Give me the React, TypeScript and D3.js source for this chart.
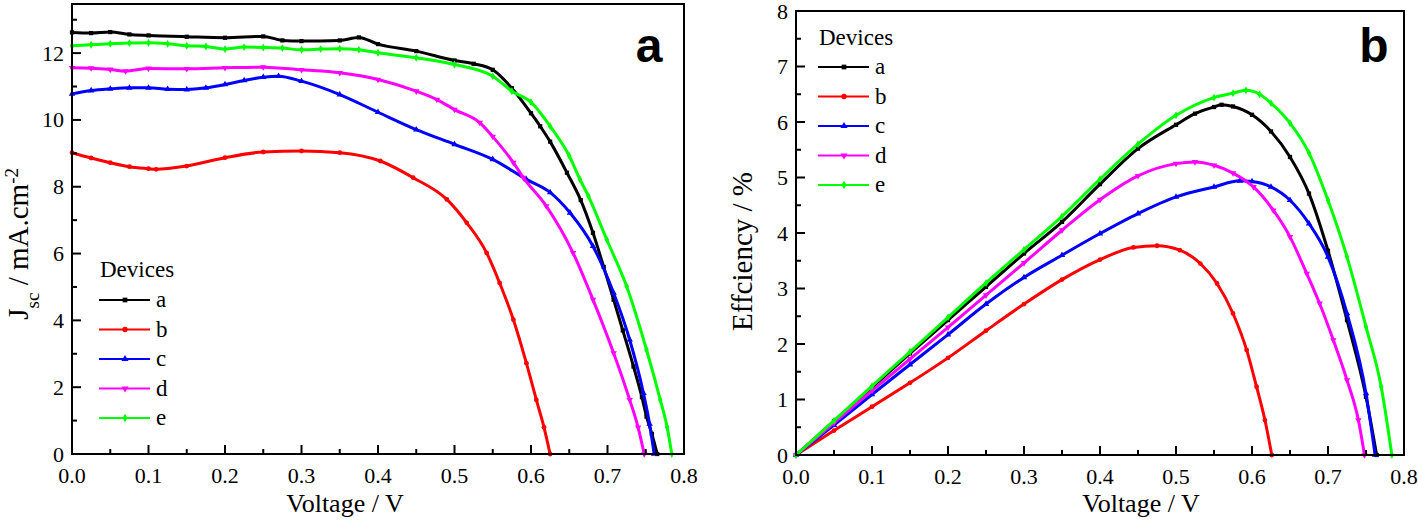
import * as React from 'react';
import * as d3 from 'd3';

// panel a: Jsc (mA/cm2) vs voltage, one [V, J] list per device
const jvA = [[0, 12.62], [0.025, 12.6], [0.05, 12.63], [0.075, 12.56], [0.1, 12.53], [0.15, 12.49], [0.2, 12.46], [0.25, 12.5], [0.275, 12.38], [0.3, 12.36], [0.35, 12.38], [0.375, 12.47], [0.4, 12.27], [0.45, 12.06], [0.5, 11.78], [0.525, 11.68], [0.55, 11.5], [0.575, 10.95], [0.6, 10.2], [0.612, 9.81], [0.625, 9.35], [0.647, 8.42], [0.665, 7.6], [0.681, 6.62], [0.695, 5.6], [0.708, 4.62], [0.72, 3.7], [0.734, 2.62], [0.745, 1.7], [0.751, 1.12], [0.758, 0.6], [0.765, 0]];
const jvB = [[0, 9.02], [0.025, 8.86], [0.05, 8.72], [0.075, 8.6], [0.1, 8.54], [0.11, 8.52], [0.15, 8.62], [0.2, 8.87], [0.25, 9.04], [0.3, 9.07], [0.35, 9.02], [0.403, 8.77], [0.446, 8.27], [0.49, 7.62], [0.516, 6.92], [0.542, 6.02], [0.559, 5.12], [0.577, 4.02], [0.594, 2.72], [0.607, 1.62], [0.617, 0.8], [0.625, 0]];
const jvC = [[0, 10.78], [0.025, 10.88], [0.05, 10.93], [0.075, 10.96], [0.1, 10.96], [0.125, 10.92], [0.15, 10.91], [0.175, 10.96], [0.2, 11.06], [0.225, 11.18], [0.25, 11.28], [0.27, 11.31], [0.3, 11.16], [0.35, 10.76], [0.4, 10.23], [0.45, 9.71], [0.5, 9.27], [0.55, 8.82], [0.594, 8.22], [0.625, 7.83], [0.651, 7.22], [0.681, 6.22], [0.708, 4.82], [0.729, 3.42], [0.747, 1.82], [0.755, 0.9], [0.761, 0]];
const jvD = [[0, 11.56], [0.025, 11.55], [0.05, 11.51], [0.07, 11.46], [0.1, 11.54], [0.15, 11.53], [0.2, 11.56], [0.25, 11.58], [0.3, 11.5], [0.35, 11.41], [0.4, 11.21], [0.45, 10.86], [0.477, 10.61], [0.5, 10.31], [0.533, 9.92], [0.55, 9.5], [0.577, 8.72], [0.59, 8.27], [0.62, 7.42], [0.655, 6.02], [0.681, 4.62], [0.708, 3.02], [0.729, 1.62], [0.74, 0.8], [0.748, 0]];
const jvE = [[0, 12.22], [0.025, 12.25], [0.05, 12.28], [0.075, 12.3], [0.1, 12.31], [0.125, 12.28], [0.15, 12.22], [0.175, 12.2], [0.2, 12.12], [0.225, 12.18], [0.25, 12.17], [0.275, 12.15], [0.3, 12.1], [0.325, 12.12], [0.35, 12.13], [0.375, 12.1], [0.4, 12.01], [0.45, 11.86], [0.5, 11.66], [0.55, 11.31], [0.575, 10.86], [0.6, 10.53], [0.625, 9.81], [0.65, 8.92], [0.664, 8.22], [0.675, 7.72], [0.699, 6.42], [0.725, 5.02], [0.751, 3.12], [0.769, 1.62], [0.778, 0.8], [0.784, 0]];

// panel b: efficiency (%) vs voltage
const effA = [[0, 0], [0.05, 0.61], [0.1, 1.22], [0.15, 1.83], [0.2, 2.43], [0.25, 3.03], [0.3, 3.63], [0.35, 4.2], [0.4, 4.88], [0.45, 5.52], [0.5, 5.95], [0.525, 6.15], [0.55, 6.27], [0.56, 6.31], [0.575, 6.28], [0.6, 6.13], [0.625, 5.83], [0.65, 5.37], [0.675, 4.71], [0.7, 3.68], [0.725, 2.43], [0.75, 1.05], [0.764, 0]];
const effB = [[0, 0], [0.05, 0.44], [0.1, 0.87], [0.15, 1.3], [0.2, 1.75], [0.25, 2.24], [0.3, 2.72], [0.35, 3.16], [0.4, 3.52], [0.444, 3.74], [0.475, 3.77], [0.505, 3.69], [0.532, 3.45], [0.554, 3.09], [0.575, 2.55], [0.593, 1.89], [0.606, 1.23], [0.617, 0.63], [0.626, 0]];
const effC = [[0, 0], [0.05, 0.54], [0.1, 1.09], [0.15, 1.63], [0.2, 2.17], [0.25, 2.72], [0.3, 3.2], [0.35, 3.6], [0.4, 3.99], [0.45, 4.35], [0.5, 4.65], [0.55, 4.83], [0.584, 4.94], [0.6, 4.93], [0.625, 4.83], [0.65, 4.59], [0.675, 4.17], [0.7, 3.57], [0.725, 2.55], [0.75, 1.11], [0.762, 0]];
const effD = [[0, 0], [0.05, 0.58], [0.1, 1.16], [0.15, 1.73], [0.2, 2.3], [0.25, 2.88], [0.3, 3.46], [0.35, 4.05], [0.4, 4.6], [0.45, 5.03], [0.5, 5.25], [0.525, 5.28], [0.55, 5.22], [0.575, 5.08], [0.602, 4.83], [0.628, 4.41], [0.65, 3.93], [0.672, 3.27], [0.689, 2.73], [0.707, 2.07], [0.725, 1.35], [0.74, 0.63], [0.748, 0]];
const effE = [[0, 0], [0.05, 0.62], [0.1, 1.24], [0.15, 1.86], [0.2, 2.48], [0.25, 3.1], [0.3, 3.7], [0.35, 4.3], [0.4, 4.97], [0.45, 5.6], [0.5, 6.12], [0.55, 6.44], [0.575, 6.52], [0.592, 6.57], [0.61, 6.5], [0.625, 6.34], [0.65, 5.98], [0.675, 5.44], [0.7, 4.59], [0.725, 3.57], [0.75, 2.31], [0.77, 1.23], [0.784, 0]];

const devices = ['a', 'b', 'c', 'd', 'e'];
const deviceColor = { a: '#000000', b: '#ff0000', c: '#0000ff', d: '#ff00ff', e: '#00ff00' };
const deviceSymbol = { a: d3.symbolSquare, b: d3.symbolCircle, c: d3.symbolTriangle, d: d3.symbolTriangle, e: d3.symbolDiamond };

const voltTicks = [0, 0.1, 0.2, 0.3, 0.4, 0.5, 0.6, 0.7, 0.8];
const voltMinor = [0.05, 0.15, 0.25, 0.35, 0.45, 0.55, 0.65, 0.75];
const jTicks = [0, 2, 4, 6, 8, 10, 12];
const jMinor = [1, 3, 5, 7, 9, 11, 13];
const effTicks = [0, 1, 2, 3, 4, 5, 6, 7, 8];
const effMinor = [0.5, 1.5, 2.5, 3.5, 4.5, 5.5, 6.5, 7.5];

// single family names only, lists fell back to sans in this browser
const SERIF = "'Liberation Serif'";
const SANS = "'Liberation Sans'";

const marker = (key, size) => d3.symbol().type(deviceSymbol[key]).size(size)();
const markerTransform = (key, px, py) => `translate(${px},${py})${key === 'd' ? ' rotate(180)' : ''}`;

const Panel = ({ p }) => {
  const x = d3.scaleLinear().domain([0, 0.8]).range([p.left, p.right]);
  const y = d3.scaleLinear().domain([0, p.yMax]).range([p.bottom, p.top]);
  const line = d3.line()
    .x((d: any) => x(d[0]))
    .y((d: any) => y(d[1]))
    .curve(d3.curveMonotoneX);

  return (
    <g>
      {/* curves */}
      {p.series.map((data, i) => {
        const key = devices[i];
        return (
          <g key={key}>
            <path d={line(data)} fill="none" stroke={deviceColor[key]} strokeWidth={3} />
            {data.map((d, j) => (
              <path
                key={j}
                transform={markerTransform(key, x(d[0]), y(d[1]))}
                d={marker(key, 18)}
                fill={deviceColor[key]}
              />
            ))}
          </g>
        );
      })}

      {/* frame */}
      <rect
        x={p.left}
        y={p.top}
        width={p.right - p.left}
        height={p.bottom - p.top}
        fill="none"
        stroke="#000"
        strokeWidth={2}
      />

      {/* x ticks, inward */}
      {voltTicks.map(v => (
        <g key={'xt' + v}>
          <line x1={x(v)} x2={x(v)} y1={p.bottom} y2={p.bottom - 9} stroke="#000" strokeWidth={2} />
          <text x={x(v)} y={p.bottom + 29} textAnchor="middle" fontSize={22} style={{ fontFamily: SERIF }}>
            {d3.format('.1f')(v)}
          </text>
        </g>
      ))}
      {voltMinor.map(v => (
        <line key={'xm' + v} x1={x(v)} x2={x(v)} y1={p.bottom} y2={p.bottom - 5} stroke="#000" strokeWidth={2} />
      ))}

      {/* y ticks, inward */}
      {p.yTicks.map(v => (
        <g key={'yt' + v}>
          <line x1={p.left} x2={p.left + 9} y1={y(v)} y2={y(v)} stroke="#000" strokeWidth={2} />
          <text x={p.left - 8} y={y(v) + 7.5} textAnchor="end" fontSize={22} style={{ fontFamily: SERIF }}>
            {v}
          </text>
        </g>
      ))}
      {p.yMinor.filter(v => v < p.yMax).map(v => (
        <line key={'ym' + v} x1={p.left} x2={p.left + 5} y1={y(v)} y2={y(v)} stroke="#000" strokeWidth={2} />
      ))}

      {/* axis titles */}
      <text x={p.xTitleX} y={512} textAnchor="middle" fontSize={26} style={{ fontFamily: SERIF }}>
        Voltage / V
      </text>
      <text
        transform={`translate(${p.yTitleX},${p.yTitleEnd}) rotate(-90)`}
        textAnchor="end"
        fontSize={29}
        style={{ fontFamily: SERIF }}
      >
        {p.yTitle.map((part, k) => (
          <tspan key={k} baselineShift={part.shift} fontSize={part.shift ? 19 : undefined}>
            {part.text}
          </tspan>
        ))}
      </text>

      {/* panel letter */}
      <text x={p.letterX} y={62} textAnchor="middle" fontSize={48} fontWeight="bold" style={{ fontFamily: SANS }}>
        {p.letter}
      </text>

      {/* legend */}
      <text x={p.legendX + 1} y={p.legendTitleY} fontSize={23} style={{ fontFamily: SERIF }}>
        Devices
      </text>
      {devices.map((key, i) => {
        const ly = p.legendY0 + i * p.legendStep;
        return (
          <g key={'lg' + key}>
            <line x1={p.legendX} x2={p.legendX + 51} y1={ly} y2={ly} stroke={deviceColor[key]} strokeWidth={2} />
            <path transform={markerTransform(key, p.legendX + 26, ly)} d={marker(key, 22)} fill={deviceColor[key]} />
            <text x={p.legendX + 57} y={ly + 7} fontSize={23} style={{ fontFamily: SERIF }}>
              {key}
            </text>
          </g>
        );
      })}
    </g>
  );
};

const panelA = {
  left: 72, right: 684, top: 4, bottom: 454, yMax: 13.47,
  yTicks: jTicks, yMinor: jMinor,
  series: [jvA, jvB, jvC, jvD, jvE],
  xTitleX: 345, yTitleX: 28, yTitleEnd: 168,
  yTitle: [{ text: 'J' }, { text: 'sc', shift: 'sub' }, { text: ' / mA.cm' }, { text: '-2', shift: 'super' }],
  letter: 'a', letterX: 649,
  legendX: 99, legendTitleY: 277, legendY0: 300, legendStep: 29.5,
};

const panelB = {
  left: 796, right: 1404, top: 11, bottom: 455, yMax: 8,
  yTicks: effTicks, yMinor: effMinor,
  series: [effA, effB, effC, effD, effE],
  xTitleX: 1141, yTitleX: 752, yTitleEnd: 172,
  yTitle: [{ text: 'Effciency / %' }],
  letter: 'b', letterX: 1374,
  legendX: 818, legendTitleY: 45, legendY0: 67, legendStep: 29.5,
};

const App = () => (
  <svg
    width={1418}
    height={522}
    style={{ position: 'absolute', left: 0, top: 0, background: '#fff' }}
  >
    <Panel p={panelA} />
    <Panel p={panelB} />
  </svg>
);

export default App;
